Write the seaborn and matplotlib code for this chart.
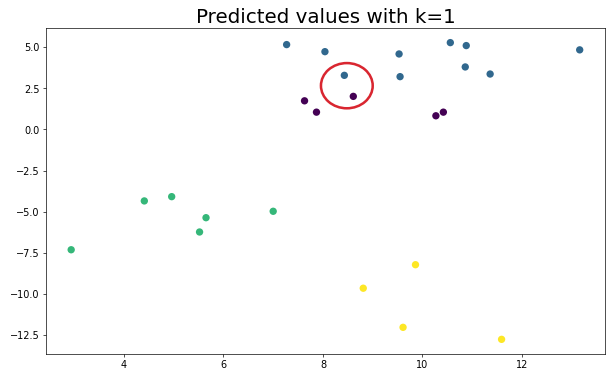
import pandas as pd
import matplotlib.pyplot as plt
import seaborn as sns
from matplotlib.patches import Ellipse

# Data: points and predicted class
x_vals = [7.27, 8.04, 8.43, 9.53, 9.55, 10.56, 10.88, 10.86, 11.36, 13.16,
          7.63, 7.87, 8.61, 10.27, 10.42,
          2.94, 4.41, 4.96, 5.65, 5.52, 7.00,
          9.86, 8.81, 9.61, 11.59]
y_vals = [5.16, 4.73, 3.29, 4.59, 3.21, 5.28, 5.10, 3.80, 3.37, 4.84,
          1.74, 1.05, 2.01, 0.83, 1.05,
          -7.32, -4.35, -4.09, -5.37, -6.24, -4.98,
          -8.23, -9.66, -12.04, -12.77]
labels = [1] * 10 + [0] * 5 + [2] * 6 + [3] * 4
class_colors = ['#440154', '#31688e', '#35b779', '#fde725']

df = pd.DataFrame({'x': x_vals, 'y': y_vals, 'label': labels})

fig, ax = plt.subplots(figsize=(10, 6.2), dpi=61)
fig.subplots_adjust(left=0.075, right=0.992, top=0.926, bottom=0.063)

sns.scatterplot(data=df, x='x', y='y', hue='label', palette=class_colors,
                s=75, edgecolor='none', legend=False, ax=ax)

# highlight the misclassified neighbourhood
ax.add_patch(Ellipse((8.48, 2.66), width=1.04, height=2.75, fill=False,
                     edgecolor='#d92630', linewidth=3))

ax.set_title('Predicted values with k=1', fontsize=23.5)
ax.set_xlabel('')
ax.set_ylabel('')
ax.tick_params(labelsize=11.5)

plt.savefig('out.png', dpi=61)
